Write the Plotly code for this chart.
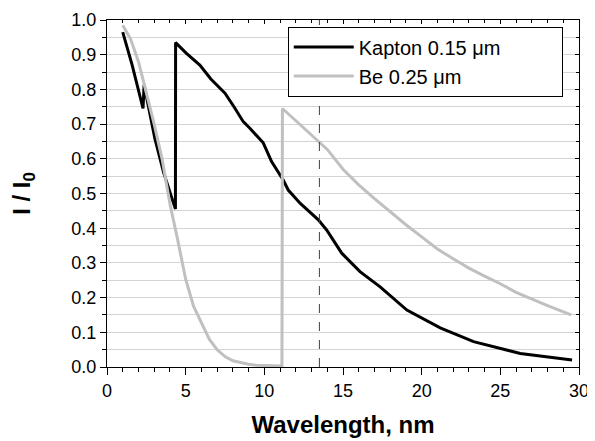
import plotly.graph_objects as go

# Kapton 0.15 um transmission
kapton_x = [1.0, 1.6, 2.29, 2.36, 3.04, 3.6, 4.35, 4.36, 5.05, 5.9, 6.6, 7.5, 8.1, 8.66, 9.08, 9.93,
            10.46, 11.2, 11.52, 12.27, 13.43, 13.96, 14.92, 16.08, 17.36, 19.06, 21.18, 23.3, 26.27, 29.56]
kapton_y = [0.965, 0.87, 0.745, 0.813, 0.659, 0.56, 0.455, 0.935, 0.904, 0.87, 0.83, 0.789, 0.748, 0.707,
            0.688, 0.646, 0.592, 0.539, 0.51, 0.472, 0.424, 0.395, 0.328, 0.275, 0.231, 0.164, 0.113,
            0.073, 0.039, 0.02]

# Be 0.25 um transmission
be_x = [1.0, 1.5, 2.0, 2.5, 3.0, 3.5, 4.0, 4.5, 5.0, 5.5, 6.0, 6.5, 7.0, 7.5, 8.0, 8.5, 9.0, 9.5,
        10.0, 10.5, 11.12, 11.15, 12.0, 13.0, 14.0, 15.0, 16.0, 17.0, 18.0, 19.0, 20.0, 21.0, 22.0,
        23.0, 24.0, 25.0, 26.0, 27.0, 28.0, 29.5]
be_y = [0.985, 0.945, 0.88, 0.79, 0.70, 0.60, 0.47, 0.365, 0.253, 0.175, 0.125, 0.08, 0.05, 0.03,
        0.018, 0.012, 0.008, 0.005, 0.004, 0.003, 0.003, 0.745, 0.71, 0.667, 0.627, 0.57, 0.525,
        0.485, 0.447, 0.41, 0.375, 0.34, 0.312, 0.285, 0.262, 0.24, 0.215, 0.195, 0.177, 0.15]

series_names = ["Kapton 0.15 μm", "Be 0.25 μm"]
marker_line_x = 13.5
x_range = [0, 30]
y_range = [0, 1.0]

FONT = "Liberation Sans, Arial, sans-serif"
PAD = "&nbsp;" * 10  # right padding inside the legend box

fig = go.Figure()
fig.add_trace(go.Scatter(x=kapton_x, y=kapton_y, mode="lines", name=series_names[0] + PAD,
                         line=dict(color="black", width=3)))
fig.add_trace(go.Scatter(x=be_x, y=be_y, mode="lines", name=series_names[1],
                         line=dict(color="#c0c0c0", width=3)))
# helper trace for mirrored inside-tick axes
fig.add_trace(go.Scatter(x=[None], y=[None], xaxis="x2", yaxis="y2", showlegend=False,
                         hoverinfo="skip", mode="lines"))

fig.add_shape(type="line", x0=marker_line_x, x1=marker_line_x, y0=0, y1=1, xref="x", yref="paper",
              line=dict(color="#404040", width=1, dash="dash"), layer="above")

fig.update_layout(
    width=587, height=433,
    margin=dict(l=99, r=16, t=12, b=74),
    paper_bgcolor="white", plot_bgcolor="white",
    font=dict(family=FONT, color="black", size=18),
    showlegend=True,
    legend=dict(x=0.383, y=0.981, xanchor="left", yanchor="top",
                bordercolor="black", borderwidth=1, bgcolor="white",
                font=dict(size=20, family=FONT), itemwidth=60,
                tracegroupgap=0),
    xaxis=dict(range=x_range, dtick=5, tick0=0, ticks="outside", ticklen=7, tickwidth=1,
               tickcolor="black", showline=True, linecolor="black", linewidth=1,
               showgrid=False, zeroline=False, automargin=False,
               minor=dict(dtick=1, ticks="outside", ticklen=4, tickcolor="black", showgrid=False),
               tickfont=dict(size=18),
               title=dict(text="<b>Wavelength, nm</b>", font=dict(size=24), standoff=16)),
    yaxis=dict(range=y_range, dtick=0.1, tick0=0, tickformat=".1f", ticks="outside", ticklen=6,
               tickwidth=1, tickcolor="black", showline=True, linecolor="black", linewidth=1,
               showgrid=True, gridcolor="#d4d4d4", gridwidth=1, zeroline=False, automargin=False,
               minor=dict(dtick=0.05, ticks="outside", ticklen=4, tickcolor="black",
                          showgrid=True, gridcolor="#d4d4d4", gridwidth=1),
               tickfont=dict(size=18),
               title=dict(text="<b>I / I<sub>0</sub></b>", font=dict(size=24), standoff=35)),
    xaxis2=dict(range=x_range, overlaying="x", side="top", dtick=5, tick0=0, ticks="inside",
                ticklen=4, tickcolor="black", showticklabels=False, showline=True,
                linecolor="black", linewidth=1, showgrid=False, zeroline=False, automargin=False,
                minor=dict(dtick=1, ticks="inside", ticklen=3, tickcolor="black")),
    yaxis2=dict(range=y_range, overlaying="y", side="right", dtick=0.1, tick0=0, ticks="inside",
                ticklen=4, tickcolor="black", showticklabels=False, showline=True,
                linecolor="black", linewidth=1, showgrid=False, zeroline=False, automargin=False,
                minor=dict(dtick=0.05, ticks="inside", ticklen=3, tickcolor="black")),
)

fig.write_html("out.html")
